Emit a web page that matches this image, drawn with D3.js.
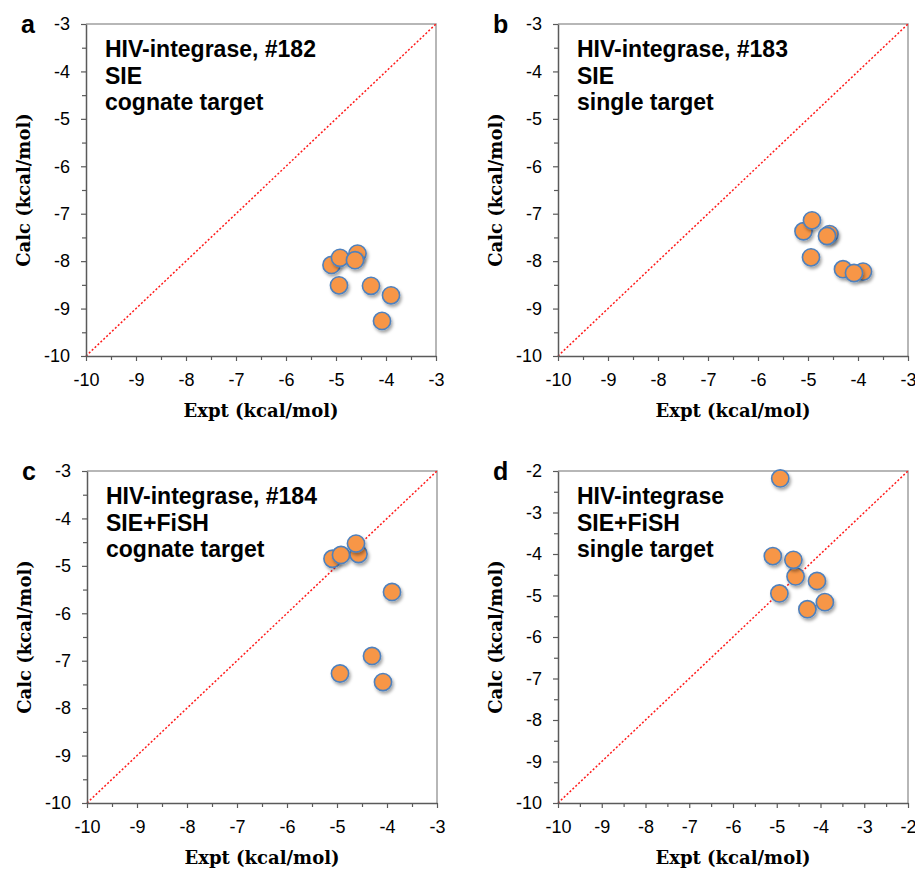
<!DOCTYPE html>
<html>
<head>
<meta charset="utf-8">
<script src="https://d3js.org/d3.v7.min.js"></script>
<style>
  body { margin: 0; background: #fff; }
  .tick text { font-family: "Liberation Sans", Arial, sans-serif; font-size: 18px; fill: #000; }
  .axis-title { font-family: "DejaVu Serif", serif; font-weight: bold; font-size: 18px; }
  .note { font-family: "Liberation Sans", Arial, sans-serif; font-weight: bold; font-size: 23px; }
  .letter { font-family: "Liberation Sans", Arial, sans-serif; font-weight: bold; font-size: 25px; }
</style>
</head>
<body>
<svg id="chart" width="915" height="870"></svg>
<script>
'use strict';

// experimental binding energies (shared by all four panels)
var expt = [-5.09, -4.92, -4.57, -4.62, -4.94, -4.30, -3.90, -4.08];

// calculated values, one list per panel
var calcA = [-8.08, -7.93, -7.84, -7.98, -8.51, -8.52, -8.72, -9.26];
var calcB = [-7.37, -7.14, -7.43, -7.47, -7.92, -8.17, -8.22, -8.25];
var calcC = [-4.85, -4.77, -4.75, -4.53, -7.27, -6.90, -5.55, -7.45];
var calcD = [-4.05, -2.18, -4.54, -4.14, -4.95, -5.33, -5.16, -4.65];

var panelLetters = ['a', 'b', 'c', 'd'];
var panelNotes = [
    ['HIV-integrase, #182', 'SIE', 'cognate target'],
    ['HIV-integrase, #183', 'SIE', 'single target'],
    ['HIV-integrase, #184', 'SIE+FiSH', 'cognate target'],
    ['HIV-integrase', 'SIE+FiSH', 'single target']
];
var domainSmall = [-10, -3];
var domainLarge = [-10, -2];
var panelDomains = [domainSmall, domainSmall, domainSmall, domainLarge];
var xTitle = 'Expt (kcal/mol)', yTitle = 'Calc (kcal/mol)';

var calcs = [calcA, calcB, calcC, calcD];
var plotW = 350, plotH = 332;
var lefts = [86, 558, 87, 558], tops = [24, 24, 471, 471];
var fmt = function (d) { return d3.format('d')(d).replace('\u2212', '-'); };

var svg = d3.select('#chart');

// soft shadow under the markers
var filter = svg.append('defs').append('filter').attr('id', 'shadow')
    .attr('x', '-50%').attr('y', '-50%').attr('width', '200%').attr('height', '200%');
filter.append('feDropShadow').attr('dx', 1.5).attr('dy', 2.5).attr('stdDeviation', 1.8)
    .attr('flood-color', '#000').attr('flood-opacity', 0.35);

panelLetters.forEach(function (letter, i) {
    var dom = panelDomains[i], left = lefts[i], top = tops[i];
    var x = d3.scaleLinear().domain(dom).range([left, left + plotW]);
    var y = d3.scaleLinear().domain(dom).range([top + plotH, top]);
    var major = d3.range(dom[0], dom[1] + 0.5, 1);
    var minor = d3.range(dom[0] + 0.5, dom[1], 1);
    var g = svg.append('g').attr('class', 'panel');

    // top and right frame
    g.append('path')
        .attr('d', 'M' + x(dom[0]) + ',' + y(dom[1]) + 'H' + x(dom[1]) + 'V' + y(dom[0]))
        .attr('fill', 'none').attr('stroke', '#a0a0a0').attr('stroke-width', 1.5);

    // y = x reference line
    g.append('line')
        .attr('x1', x(dom[0])).attr('y1', y(dom[0]))
        .attr('x2', x(dom[1])).attr('y2', y(dom[1]))
        .attr('stroke', '#ff1a1a').attr('stroke-width', 1.5).attr('stroke-dasharray', '2,2');

    // minor ticks (no labels)
    var dropText = function (a) { a.select('.domain').remove(); a.selectAll('text').remove(); };
    g.append('g').attr('transform', 'translate(0,' + (top + plotH) + ')')
        .call(d3.axisBottom(x).tickValues(minor).tickSize(4))
        .call(dropText);
    g.append('g').attr('transform', 'translate(' + left + ',0)')
        .call(d3.axisLeft(y).tickValues(minor).tickSize(4))
        .call(dropText);

    // major axes
    g.append('g').attr('transform', 'translate(0,' + (top + plotH) + ')')
        .call(d3.axisBottom(x).tickValues(major).tickSize(5).tickSizeOuter(0).tickPadding(12).tickFormat(fmt));
    g.append('g').attr('transform', 'translate(' + left + ',0)')
        .call(d3.axisLeft(y).tickValues(major).tickSize(5).tickSizeOuter(0).tickPadding(11).tickFormat(fmt));

    g.selectAll('.domain').attr('stroke', '#5a5a5a').attr('stroke-width', 1.5);
    g.selectAll('.tick line').attr('stroke', '#5a5a5a').attr('stroke-width', 1.2);

    // markers
    g.append('g').selectAll('circle')
        .data(expt.map(function (e, k) { return [e, calcs[i][k]]; }))
        .join('circle')
        .attr('cx', function (d) { return x(d[0]); })
        .attr('cy', function (d) { return y(d[1]); })
        .attr('r', 8.6)
        .attr('fill', '#f79646')
        .attr('stroke', '#4f81bd')
        .attr('stroke-width', 1.6)
        .attr('filter', 'url(#shadow)');

    // axis titles
    g.append('text').attr('class', 'axis-title')
        .attr('x', left + plotW / 2).attr('y', top + plotH + 61)
        .attr('text-anchor', 'middle').text(xTitle);
    g.append('text').attr('class', 'axis-title')
        .attr('transform', 'translate(' + (left - 56) + ',' + (top + plotH / 2) + ') rotate(-90)')
        .attr('text-anchor', 'middle').text(yTitle);

    // panel annotation
    panelNotes[i].forEach(function (line, k) {
        g.append('text').attr('class', 'note')
            .attr('x', left + 19).attr('y', top + 33 + k * 26.7).text(line);
    });

    // panel letter
    g.append('text').attr('class', 'letter')
        .attr('x', left - 65).attr('y', top + 9).text(letter);
});
</script>
</body>
</html>
